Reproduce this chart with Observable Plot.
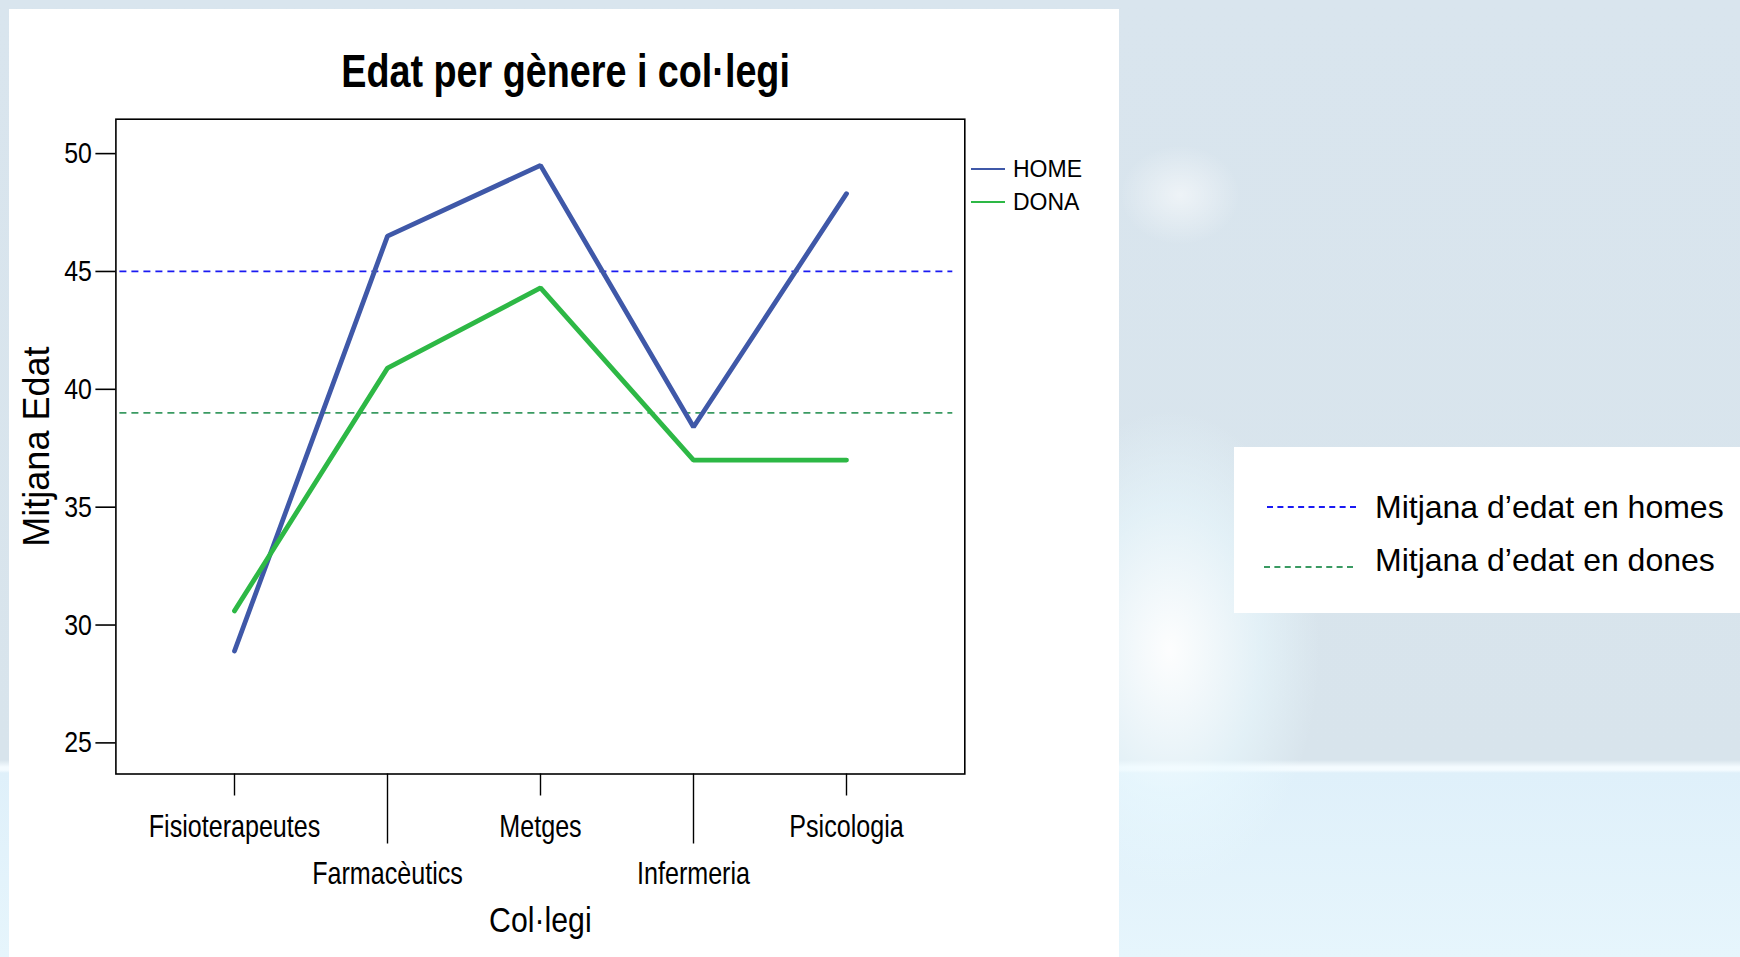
<!DOCTYPE html>
<html>
<head>
<meta charset="utf-8">
<script src="https://cdn.jsdelivr.net/npm/d3@7"></script>
<script src="https://cdn.jsdelivr.net/npm/@observablehq/plot@0.6"></script>
<style>
  html, body { margin: 0; padding: 0; }
  body {
    width: 1740px; height: 957px; overflow: hidden; position: relative;
    font-family: "Liberation Sans", Arial, sans-serif;
    background:
      radial-gradient(ellipse 150px 240px at 1170px 650px, rgba(255,255,255,0.95), rgba(235,250,255,0.55) 60%, rgba(255,255,255,0) 100%),
      radial-gradient(ellipse 60px 50px at 1180px 195px, rgba(255,255,255,0.55), rgba(255,255,255,0) 100%),
      linear-gradient(to bottom, #d9e5ee 0px, #d8e4ec 760px, #f4fbff 767px, #f4fbff 770px, #dff0fa 773px, #e6f5fc 957px);
  }
  #panel { position: absolute; left: 9px; top: 9px; width: 1110px; height: 948px; background: #fff; }
  #title {
    position: absolute; left: 9px; top: 45px; width: 1110px; height: 52px; line-height: 52px;
    text-align: center; font-family: "Liberation Sans", Arial, sans-serif;
    font-weight: bold; font-size: 46px; color: #000;
    transform: scaleX(0.82); transform-origin: 564px 50%;
  }
  #chart { position: absolute; left: 9px; top: 100px; }
  .lg { position: absolute; display: flex; align-items: center; font-size: 23px; color: #000; }
  .lg .sw { width: 34px; height: 0; border-top: 2.5px solid; margin-right: 8px; }
  #meanbox { position: absolute; left: 1234px; top: 447px; width: 506px; height: 166px; background: #fff; }
  .ml { position: absolute; display: flex; align-items: center; font-size: 32px; color: #000; white-space: nowrap; }
  .ml .dash { width: 89px; height: 0; border-top: 2px dashed; }
</style>
</head>
<body>
<div id="panel"></div>
<div id="title">Edat per gènere i col·legi</div>
<div id="chart"></div>
<div id="legend"></div>
<div id="meanbox"></div>
<div id="meanlegend"></div>
<script>
const colegis = ["Fisioterapeutes", "Farmacèutics", "Metges", "Infermeria", "Psicologia"];
const generes = ["HOME", "DONA"];
const edatHome = [28.9, 46.5, 49.5, 38.4, 48.3];
const edatDona = [30.6, 40.9, 44.3, 37.0, 37.0];
const mitjanaHomes = 45.0;
const mitjanaDones = 39.0;
const yTicks = [25, 30, 35, 40, 45, 50];
const colorsGenere = ["#3f58a8", "#2db845"];
const colorsMitjana = ["#1a1af2", "#3a9a62"];
const mitjanaLabels = ["Mitjana d\u2019edat en homes", "Mitjana d\u2019edat en dones"];
const xLabel = "Col·legi";
const yLabel = "Mitjana Edat";

const data = [
  ...colegis.map((c, i) => ({colegi: c, genere: "HOME", edat: edatHome[i]})),
  ...colegis.map((c, i) => ({colegi: c, genere: "DONA", edat: edatDona[i]}))
];

const font = "'Liberation Sans', Arial, sans-serif";

const chart = Plot.plot({
  width: 1110,
  height: 857,
  marginTop: 18.7,
  marginBottom: 183.5,
  marginLeft: 106.4,
  marginRight: 154.7,
  style: {background: "transparent", fontFamily: font, color: "#000"},
  x: {type: "point", domain: colegis, padding: 0.76},
  y: {domain: [23.68, 51.46]},
  color: {domain: generes, range: colorsGenere},
  marks: [
    Plot.ruleY([mitjanaHomes], {stroke: colorsMitjana[0], strokeWidth: 1.8, strokeDasharray: "7,5", insetLeft: 4, insetRight: 12}),
    Plot.ruleY([mitjanaDones], {stroke: colorsMitjana[1], strokeWidth: 1.8, strokeDasharray: "7,5", insetLeft: 4, insetRight: 12}),
    Plot.line(data, {x: "colegi", y: "edat", z: "genere", stroke: "genere", strokeWidth: 4.8, strokeLinejoin: "miter"}),
    Plot.frame({stroke: "#000", strokeWidth: 1.6}),
    Plot.axisY(yTicks, {tickSize: 20, tickPadding: 4, fontSize: 30, label: null, strokeWidth: 1.6}),
    Plot.axisX(colegis.filter((d, i) => i % 2 === 0), {tickSize: 22, tickPadding: 19, fontSize: 31, label: null, strokeWidth: 1.4}),
    Plot.axisX(colegis.filter((d, i) => i % 2 === 1), {tickSize: 70, tickPadding: 18, fontSize: 31, label: null, strokeWidth: 1.4}),
    Plot.text([xLabel], {frameAnchor: "bottom", dy: 146.5, lineAnchor: "middle", textAnchor: "middle", fontSize: 36}),
    Plot.text([yLabel], {frameAnchor: "left", dx: -78.4, rotate: -90, lineAnchor: "middle", textAnchor: "middle", fontSize: 36})
  ]
});

// Condense text horizontally around its anchor (narrow SPSS-like font look)
function condense(textEl, s) {
  const x = +(textEl.getAttribute("x") || 0);
  const t = textEl.getAttribute("transform") || "";
  textEl.setAttribute("transform", `${t} translate(${x},0) scale(${s},1) translate(${-x},0)`);
}
chart.querySelectorAll('g[aria-label="x-axis tick label"] text').forEach(t => condense(t, 0.81));
chart.querySelectorAll('g[aria-label="y-axis tick label"] text').forEach(t => condense(t, 0.83));
chart.querySelectorAll('text').forEach(t => { if (t.textContent === xLabel) condense(t, 0.84); });

document.getElementById("chart").appendChild(chart);

// Gender legend (right of plot frame)
const legend = document.getElementById("legend");
generes.forEach((g, i) => {
  const el = document.createElement("div");
  el.className = "lg";
  el.style.left = "971px";
  el.style.top = (169 + i * 33 - 14) + "px";
  el.style.height = "28px";
  el.innerHTML = `<span class="sw" style="border-color:${colorsGenere[i]}"></span><span>${g}</span>`;
  legend.appendChild(el);
});

// Mean-lines legend box
const ml = document.getElementById("meanlegend");
const dashX = [1267, 1264];
const dashY = [507, 567];
const textY = [507, 560];
mitjanaLabels.forEach((t, i) => {
  const d = document.createElement("div");
  d.className = "ml";
  d.style.left = dashX[i] + "px";
  d.style.top = (dashY[i] - 1) + "px";
  d.innerHTML = `<span class="dash" style="border-color:${colorsMitjana[i]}"></span>`;
  ml.appendChild(d);
  const el = document.createElement("div");
  el.className = "ml";
  el.style.left = "1375px";
  el.style.top = (textY[i] - 20) + "px";
  el.style.height = "40px";
  el.textContent = t;
  ml.appendChild(el);
});
</script>
</body>
</html>
